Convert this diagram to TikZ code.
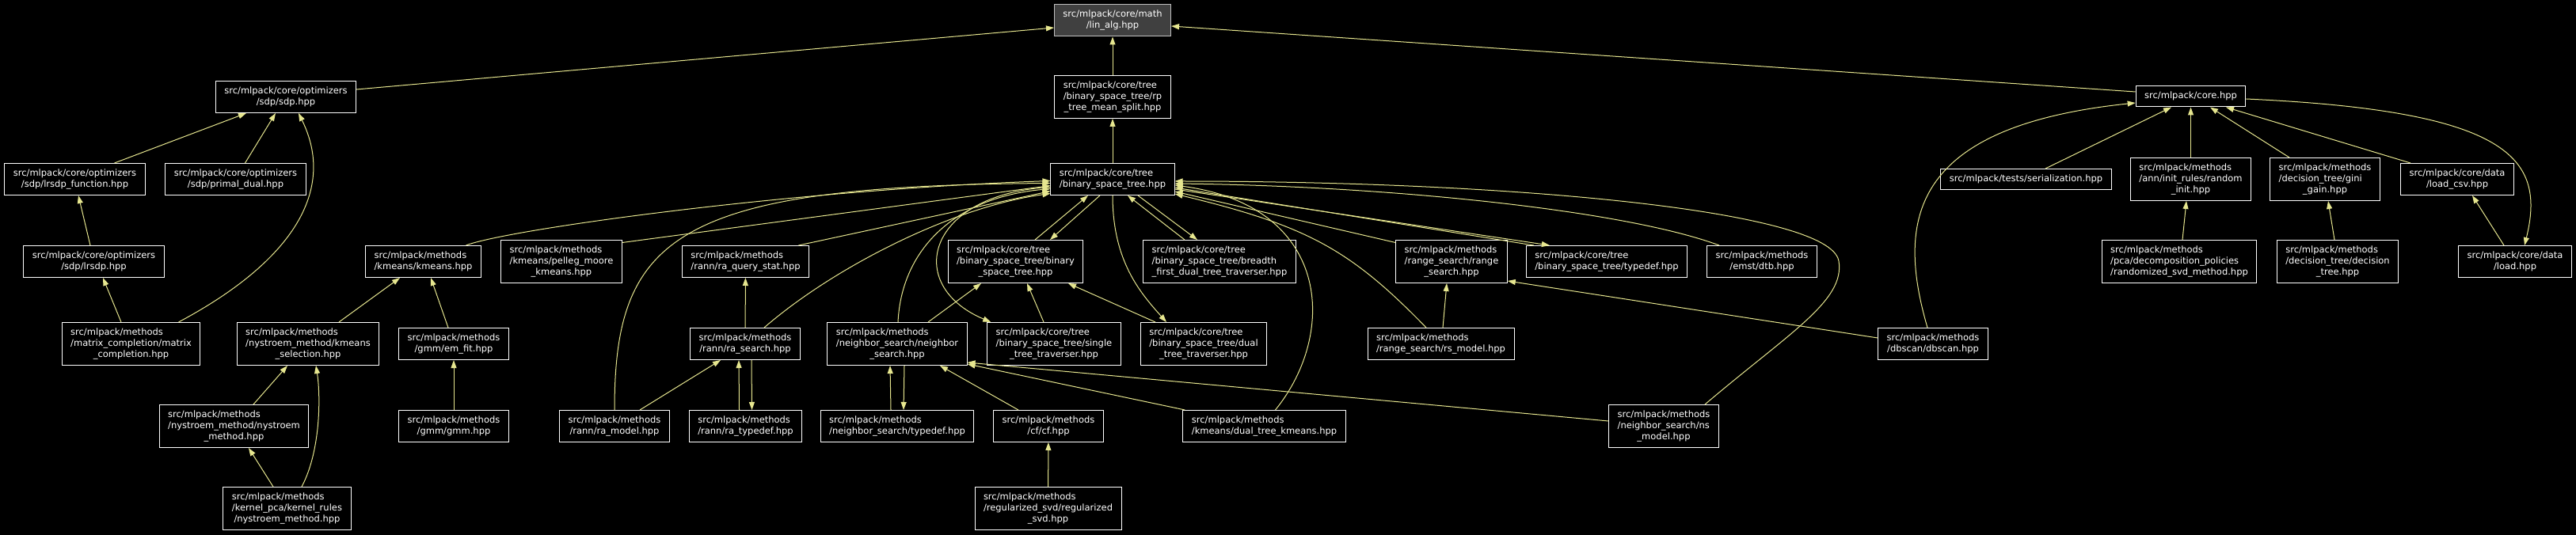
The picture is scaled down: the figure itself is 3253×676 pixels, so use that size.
\documentclass[tikz,border=0pt]{standalone}
\usepackage{fontspec}
\setmainfont{DejaVu Sans}
\usetikzlibrary{arrows.meta}
\definecolor{edgeyellow}{RGB}{230,230,143}
\definecolor{rootgray}{RGB}{64,64,64}
\definecolor{rimgray}{RGB}{191,191,191}
\tikzstyle{file} = [draw=white, fill=black, text=white, line width=1pt, inner xsep=11pt, inner ysep=6pt, font=\fontsize{11.5}{14}\selectfont]
\tikzstyle{dep} = [draw=edgeyellow, line width=1pt, -{Triangle[length=10pt,width=7pt]}]
\newcommand{\olab}[1]{\begin{tabular}{@{}c@{}}#1\end{tabular}}
\newcommand{\dlab}[2]{\begin{tabular}{@{}l@{}}#1\\\multicolumn{1}{@{}c@{}}{#2}\end{tabular}}
\newcommand{\tlab}[3]{\begin{tabular}{@{}l@{}}#1\\#2\\\multicolumn{1}{@{}c@{}}{#3}\end{tabular}}

\begin{document}
\begin{tikzpicture}[x=1pt,y=-1pt]
\fill[black] (0,0) rectangle (3253,676);
\useasboundingbox (0,0) rectangle (3253,676);
% row 0
\draw (1405,26) node (lin) [file, fill=rootgray, draw=rimgray] {\dlab{src/mlpack/core/math}{/lin\_alg.hpp}};
% row 1
\draw (361,122.5) node (sdp) [file] {\dlab{src/mlpack/core/optimizers}{/sdp/sdp.hpp}};
\draw (1405,122.5) node (rpt) [file] {\tlab{src/mlpack/core/tree}{/binary\_space\_tree/rp}{\_tree\_mean\_split.hpp}};
\draw (2766.5,122) node (core) [file] {\olab{src/mlpack/core.hpp}};
% row 2
\draw (94.5,226.5) node (lrsdpf) [file] {\dlab{src/mlpack/core/optimizers}{/sdp/lrsdp\_function.hpp}};
\draw (297.5,226.5) node (pdual) [file] {\dlab{src/mlpack/core/optimizers}{/sdp/primal\_dual.hpp}};
\draw (1405,226.5) node (bst) [file] {\dlab{src/mlpack/core/tree}{/binary\_space\_tree.hpp}};
\draw (2558.5,226.5) node (ser) [file] {\olab{src/mlpack/tests/serialization.hpp}};
\draw (2766.5,226.5) node (rinit) [file] {\tlab{src/mlpack/methods}{/ann/init\_rules/random}{\_init.hpp}};
\draw (2936,226.5) node (gini) [file] {\tlab{src/mlpack/methods}{/decision\_tree/gini}{\_gain.hpp}};
\draw (3103,226.5) node (lcsv) [file] {\dlab{src/mlpack/core/data}{/load\_csv.hpp}};
% row 3
\draw (118.5,330.5) node (lrsdp) [file] {\dlab{src/mlpack/core/optimizers}{/sdp/lrsdp.hpp}};
\draw (534.5,330.5) node (kmeans) [file] {\dlab{src/mlpack/methods}{/kmeans/kmeans.hpp}};
\draw (709,330.5) node (pelleg) [file] {\tlab{src/mlpack/methods}{/kmeans/pelleg\_moore}{\_kmeans.hpp}};
\draw (941.5,330.5) node (raqs) [file] {\dlab{src/mlpack/methods}{/rann/ra\_query\_stat.hpp}};
\draw (1282.5,330.5) node (bstb) [file] {\tlab{src/mlpack/core/tree}{/binary\_space\_tree/binary}{\_space\_tree.hpp}};
\draw (1540,330.5) node (bfdt) [file] {\tlab{src/mlpack/core/tree}{/binary\_space\_tree/breadth}{\_first\_dual\_tree\_traverser.hpp}};
\draw (1833,330.5) node (rs) [file] {\tlab{src/mlpack/methods}{/range\_search/range}{\_search.hpp}};
\draw (2029,330.5) node (bstt) [file] {\dlab{src/mlpack/core/tree}{/binary\_space\_tree/typedef.hpp}};
\draw (2225,330.5) node (dtb) [file] {\dlab{src/mlpack/methods}{/emst/dtb.hpp}};
\draw (2752,330.5) node (rsvd) [file] {\tlab{src/mlpack/methods}{/pca/decomposition\_policies}{/randomized\_svd\_method.hpp}};
\draw (2952,330.5) node (dtree) [file] {\tlab{src/mlpack/methods}{/decision\_tree/decision}{\_tree.hpp}};
\draw (3176,330.5) node (load) [file] {\dlab{src/mlpack/core/data}{/load.hpp}};
% row 4
\draw (165.5,434.5) node (mc) [file] {\tlab{src/mlpack/methods}{/matrix\_completion/matrix}{\_completion.hpp}};
\draw (389,434.5) node (ksel) [file] {\tlab{src/mlpack/methods}{/nystroem\_method/kmeans}{\_selection.hpp}};
\draw (573,434.5) node (emfit) [file] {\dlab{src/mlpack/methods}{/gmm/em\_fit.hpp}};
\draw (941,434.5) node (ras) [file] {\dlab{src/mlpack/methods}{/rann/ra\_search.hpp}};
\draw (1133,434.5) node (ns) [file] {\tlab{src/mlpack/methods}{/neighbor\_search/neighbor}{\_search.hpp}};
\draw (1331,434.5) node (stt) [file] {\tlab{src/mlpack/core/tree}{/binary\_space\_tree/single}{\_tree\_traverser.hpp}};
\draw (1520,434.5) node (dtt) [file] {\tlab{src/mlpack/core/tree}{/binary\_space\_tree/dual}{\_tree\_traverser.hpp}};
\draw (1819.5,434.5) node (rsm) [file] {\dlab{src/mlpack/methods}{/range\_search/rs\_model.hpp}};
\draw (2441,434.5) node (dbscan) [file] {\dlab{src/mlpack/methods}{/dbscan/dbscan.hpp}};
% row 5
\draw (295.5,538.5) node (nym) [file] {\tlab{src/mlpack/methods}{/nystroem\_method/nystroem}{\_method.hpp}};
\draw (573,538.5) node (gmm) [file] {\dlab{src/mlpack/methods}{/gmm/gmm.hpp}};
\draw (776,538.5) node (ram) [file] {\dlab{src/mlpack/methods}{/rann/ra\_model.hpp}};
\draw (941.5,538.5) node (rat) [file] {\dlab{src/mlpack/methods}{/rann/ra\_typedef.hpp}};
\draw (1133,538.5) node (nst) [file] {\dlab{src/mlpack/methods}{/neighbor\_search/typedef.hpp}};
\draw (1324,538.5) node (cf) [file] {\dlab{src/mlpack/methods}{/cf/cf.hpp}};
\draw (1596.5,538.5) node (dtk) [file] {\dlab{src/mlpack/methods}{/kmeans/dual\_tree\_kmeans.hpp}};
\draw (2101,538.5) node (nsm) [file] {\tlab{src/mlpack/methods}{/neighbor\_search/ns}{\_model.hpp}};
% row 6
\draw (362.5,642.5) node (krn) [file] {\tlab{src/mlpack/methods}{/kernel\_pca/kernel\_rules}{/nystroem\_method.hpp}};
\draw (1323.5,642.5) node (rsvd2) [file] {\tlab{src/mlpack/methods}{/regularized\_svd/regularized}{\_svd.hpp}};
% optimizers
\draw[dep] ([yshift=9.5pt]sdp.east) -- ([yshift=-9pt]lin.west);
\draw[dep] (rpt) -- (lin);
\draw[dep] ([yshift=6pt]core.west) -- ([yshift=-7pt]lin.east);
\draw[dep] ([xshift=50pt]lrsdpf.north) -- ([xshift=-50pt]sdp.south);
\draw[dep] ([xshift=12pt]pdual.north) -- ([xshift=-13pt]sdp.south);
\draw[dep] ([xshift=60pt]mc.north) .. controls (370,330) and (425,240) .. ([xshift=16pt]sdp.south);
\draw[dep] ([xshift=-4.5pt]lrsdp.north) -- ([xshift=4.5pt]lrsdpf.south);
\draw[dep] ([xshift=-12.5pt]mc.north) -- ([xshift=11.5pt]lrsdp.south);
\draw[dep] (bst) -- (rpt);
% into the tree from the left
\draw[dep] ([xshift=54pt]kmeans.north) .. controls (640,290) and (1000,240) .. ([yshift=-2pt]bst.west);
\draw[dep] ([yshift=24pt]pelleg.east) -- ([yshift=-8pt]bst.west);
\draw[dep] ([xshift=67pt]raqs.north) -- ([yshift=-15pt]bst.west);
\draw[dep] ([xshift=24pt]ras.north) .. controls (1050,340) and (1200,262) .. ([yshift=-18pt]bst.west);
\draw[dep] (ram.north) .. controls (776,300) and (850,235) .. ([yshift=-5pt]bst.west);
\draw[dep] ([xshift=1pt]ns.north) .. controls (1138,320) and (1200,250) .. ([yshift=-12pt]bst.west);
\draw[dep] ([yshift=-10pt]bst.west) .. controls (1170,245) and (1140,360) .. ([xshift=5pt]stt.north west);
% tree and traversers
\draw[dep] ([xshift=24.5pt]bstb.north) -- ([xshift=-31pt]bst.south);
\draw[dep] ([xshift=-16pt]bst.south) -- ([xshift=43.5pt]bstb.north);
\draw[dep] ([xshift=-44pt]bfdt.north) -- ([xshift=19pt]bst.south);
\draw[dep] ([xshift=32pt]bst.south) -- ([xshift=-28pt]bfdt.north);
\draw[dep] (bst.south) .. controls (1405,330) and (1440,370) .. ([xshift=-47pt]dtt.north);
\draw[dep] ([xshift=39pt]ns.north) -- ([xshift=-43.5pt]bstb.south);
\draw[dep] ([xshift=-13pt]stt.north) -- ([xshift=14.5pt]bstb.south);
\draw[dep] ([xshift=-61pt]dtt.north) -- ([xshift=66.5pt]bstb.south);
% into the tree from the right
\draw[dep] ([xshift=52pt]nsm.north) .. controls (2260,420) and (2330,380) .. (2322,330) .. controls (2312,265) and (1900,229) .. ([yshift=-2.5pt]bst.east);
\draw[dep] ([xshift=-54pt]dtb.north) .. controls (2050,265) and (1750,235) .. ([yshift=-5.5pt]bst.east);
\draw[dep] ([xshift=14pt]dtk.north) .. controls (1690,420) and (1680,260) .. ([yshift=-7.5pt]bst.east);
\draw[dep] ([xshift=10pt]bstt.north west) -- ([yshift=-10.5pt]bst.east);
\draw[dep] ([yshift=-12.5pt]bst.east) -- ([xshift=30pt]bstt.north west);
\draw[dep] ([yshift=24pt]rs.west) -- ([yshift=-15.5pt]bst.east);
\draw[dep] ([xshift=-18.5pt]rsm.north) .. controls (1705,315) and (1650,285) .. ([yshift=-18.5pt]bst.east);
% range search
\draw[dep] ([xshift=2.5pt]rsm.north) -- ([xshift=-6pt]rs.south);
\draw[dep] ([yshift=7.5pt]dbscan.west) -- ([yshift=3pt]rs.south east);
% core
\draw[dep] ([xshift=-7pt]dbscan.north) .. controls (2395,280) and (2410,160) .. ([yshift=-8pt]core.west);
\draw[dep] ([xshift=24.5pt]ser.north) -- ([xshift=-24.5pt]core.south);
\draw[dep] (rinit) -- (core);
\draw[dep] ([xshift=-45pt]gini.north) -- ([xshift=24.5pt]core.south);
\draw[dep] ([xshift=-59pt]lcsv.north) -- ([xshift=44.5pt]core.south);
\draw[dep] ([yshift=-3pt]core.east) .. controls (3170,140) and (3215,200) .. ([xshift=12pt]load.north);
\draw[dep] ([xshift=-14pt]load.north) -- ([xshift=19pt]lcsv.south);
\draw[dep] ([xshift=4pt]rsvd.north) -- ([xshift=-5.5pt]rinit.south);
\draw[dep] ([xshift=-4pt]dtree.north) -- ([xshift=4pt]gini.south);
% kmeans and nystroem
\draw[dep] ([xshift=39pt]ksel.north) -- ([xshift=-29.5pt]kmeans.south);
\draw[dep] ([xshift=-7pt]emfit.north) -- ([xshift=9.5pt]kmeans.south);
\draw[dep] ([xshift=24.5pt]nym.north) -- ([xshift=-26pt]ksel.south);
\draw[dep] ([xshift=-17.5pt]krn.north) -- ([xshift=18.5pt]nym.south);
\draw[dep] ([xshift=18.5pt]krn.north) .. controls (405,570) and (405,500) .. ([xshift=10pt]ksel.south);
\draw[dep] (gmm) -- (emfit);
% rann
\draw[dep] ([xshift=32pt]ram.north) -- ([xshift=-31pt]ras.south);
\draw[dep] (ras) -- (raqs);
\draw[dep] ([xshift=-8pt]rat.north) -- ([xshift=-8pt]ras.south);
\draw[dep] ([xshift=8pt]ras.south) -- ([xshift=8pt]rat.north);
% neighbor search
\draw[dep] ([xshift=-8pt]nst.north) -- ([xshift=-9pt]ns.south);
\draw[dep] ([xshift=9pt]ns.south) -- ([xshift=8pt]nst.north);
\draw[dep] ([xshift=-38pt]cf.north) -- ([xshift=54pt]ns.south);
\draw[dep] (rsvd2) -- (cf);
\draw[dep] ([xshift=3pt]dtk.north west) -- ([yshift=2pt]ns.south east);
\draw[dep] ([yshift=6.5pt]nsm.west) -- ([yshift=4pt]ns.south east);
\end{tikzpicture}
\end{document}
